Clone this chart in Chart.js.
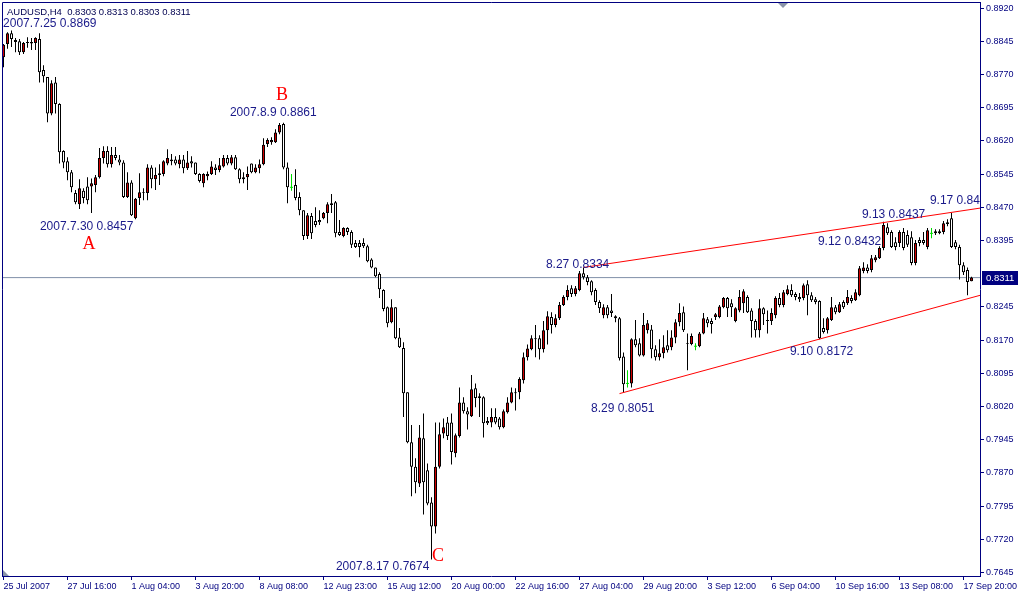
<!DOCTYPE html>
<html>
<head>
<meta charset="utf-8">
<title>AUDUSD H4</title>
<script src="https://cdn.jsdelivr.net/npm/chart.js@4.4.0/dist/chart.umd.min.js"></script>
<style>
  html, body { margin: 0; padding: 0; background: #fff; }
  canvas { display: block; }
</style>
</head>
<body>
<canvas id="chart" width="1022" height="597"></canvas>
<script>
const symbol = 'AUDUSD,H4'

// H4 bars, 25 Jul 2007 -> 18 Sep 2007
const opens = [
  0.8809,0.8839,0.8863,0.8848,0.8845,0.8820,0.8843,0.8840,0.8841,0.8850,
  0.8780,0.8764,0.8682,0.8752,0.8703,0.8597,0.8574,0.8549,0.8502,0.8477,
  0.8507,0.8517,0.8517,0.8520,0.8538,0.8581,0.8597,0.8567,0.8588,0.8578,
  0.8571,0.8493,0.8526,0.8445,0.8491,0.8504,0.8502,0.8560,0.8533,0.8543,
  0.8545,0.8569,0.8578,0.8578,0.8567,0.8578,0.8558,0.8574,0.8571,0.8545,
  0.8524,0.8540,0.8545,0.8560,0.8554,0.8562,0.8581,0.8569,0.8583,0.8556,
  0.8533,0.8538,0.8569,0.8549,0.8558,0.8567,0.8613,0.8617,0.8617,0.8639,
  0.8658,0.8560,0.8515,0.8520,0.8493,0.8463,0.8405,0.8450,0.8439,0.8441,
  0.8445,0.8457,0.8475,0.8481,0.8414,0.8405,0.8423,0.8414,0.8389,0.8389,
  0.8389,0.8382,0.8352,0.8334,0.8319,0.8283,0.8244,0.8210,0.8244,0.8176,
  0.8152,0.8052,0.7939,0.7884,0.7846,0.7948,0.7876,0.7803,0.7749,0.7884,
  0.7959,0.7984,0.7984,0.7914,0.7953,0.8029,0.8009,0.7998,0.8061,0.8043,
  0.8041,0.7987,0.7984,0.7996,0.7993,0.7973,0.8007,0.8029,0.8052,0.8052,
  0.8079,0.8131,0.8149,0.8172,0.8174,0.8149,0.8192,0.8222,0.8204,0.8219,
  0.8249,0.8267,0.8287,0.8274,0.8283,0.8321,0.8312,0.8303,0.8283,0.8256,
  0.8226,0.8244,0.8237,0.8224,0.8219,0.8133,0.8072,0.8072,0.8172,0.8163,
  0.8135,0.8192,0.8194,0.8149,0.8131,0.8140,0.8158,0.8154,0.8176,0.8210,
  0.8233,0.8161,0.8161,0.8156,0.8156,0.8185,0.8217,0.8213,0.8222,0.8222,
  0.8244,0.8265,0.8253,0.8213,0.8237,0.8253,0.8267,0.8237,0.8213,0.8192,
  0.8242,0.8213,0.8213,0.8226,0.8265,0.8249,0.8274,0.8283,0.8274,0.8267,
  0.8265,0.8296,0.8271,0.8262,0.8258,0.8197,0.8192,0.8215,0.8244,0.8233,
  0.8256,0.8253,0.8265,0.8260,0.8271,0.8326,0.8334,0.8328,0.8350,0.8355,
  0.8378,0.8425,0.8414,0.8391,0.8389,0.8414,0.8407,0.8402,0.8344,0.8396,
  0.8396,0.8380,0.8411,0.8416,0.8411,0.8414,0.8436,0.8445,0.8391,0.8380,
  0.8339,0.8328,0.8303
]
const highs = [
  0.8839,0.8865,0.8869,0.8852,0.8850,0.8843,0.8854,0.8852,0.8854,0.8863,
  0.8791,0.8764,0.8757,0.8764,0.8705,0.8599,0.8583,0.8554,0.8509,0.8533,
  0.8513,0.8538,0.8535,0.8543,0.8604,0.8608,0.8608,0.8606,0.8606,0.8588,
  0.8576,0.8549,0.8531,0.8491,0.8547,0.8513,0.8567,0.8565,0.8560,0.8567,
  0.8576,0.8601,0.8590,0.8585,0.8588,0.8588,0.8597,0.8585,0.8571,0.8547,
  0.8547,0.8551,0.8574,0.8567,0.8581,0.8588,0.8588,0.8588,0.8588,0.8558,
  0.8549,0.8562,0.8569,0.8567,0.8578,0.8626,0.8626,0.8628,0.8646,0.8660,
  0.8661,0.8571,0.8545,0.8556,0.8504,0.8463,0.8457,0.8457,0.8470,0.8463,
  0.8459,0.8481,0.8500,0.8484,0.8441,0.8425,0.8425,0.8418,0.8396,0.8396,
  0.8400,0.8385,0.8355,0.8334,0.8323,0.8285,0.8246,0.8262,0.8244,0.8197,
  0.8165,0.8052,0.7978,0.7903,0.7978,0.8004,0.7891,0.7815,0.7984,0.7984,
  0.7993,0.7996,0.8004,0.7959,0.8063,0.8041,0.8018,0.8091,0.8072,0.8050,
  0.8043,0.7996,0.8016,0.8016,0.7996,0.8013,0.8041,0.8063,0.8061,0.8086,
  0.8142,0.8160,0.8181,0.8204,0.8181,0.8213,0.8235,0.8233,0.8228,0.8256,
  0.8271,0.8294,0.8294,0.8292,0.8326,0.8334,0.8317,0.8305,0.8287,0.8260,
  0.8251,0.8249,0.8274,0.8226,0.8222,0.8142,0.8102,0.8174,0.8215,0.8174,
  0.8231,0.8215,0.8204,0.8158,0.8172,0.8181,0.8192,0.8192,0.8217,0.8253,
  0.8246,0.8185,0.8185,0.8163,0.8188,0.8231,0.8222,0.8219,0.8231,0.8249,
  0.8267,0.8267,0.8262,0.8244,0.8283,0.8285,0.8271,0.8242,0.8217,0.8262,
  0.8244,0.8237,0.8242,0.8269,0.8276,0.8283,0.8294,0.8296,0.8278,0.8276,
  0.8298,0.8305,0.8278,0.8267,0.8260,0.8219,0.8222,0.8267,0.8249,0.8256,
  0.8260,0.8283,0.8271,0.8285,0.8337,0.8346,0.8341,0.8362,0.8362,0.8382,
  0.8437,0.8434,0.8418,0.8402,0.8418,0.8423,0.8418,0.8416,0.8396,0.8402,
  0.8414,0.8423,0.8423,0.8420,0.8420,0.8439,0.8443,0.8457,0.8396,0.8385,
  0.8346,0.8334,0.8313
]
const lows = [
  0.8786,0.8828,0.8832,0.8820,0.8814,0.8816,0.8830,0.8825,0.8825,0.8752,
  0.8752,0.8662,0.8678,0.8682,0.8569,0.8558,0.8531,0.8504,0.8477,0.8466,
  0.8479,0.8477,0.8457,0.8504,0.8535,0.8569,0.8560,0.8560,0.8576,0.8565,
  0.8491,0.8491,0.8450,0.8443,0.8475,0.8486,0.8486,0.8513,0.8509,0.8520,
  0.8540,0.8565,0.8565,0.8565,0.8558,0.8547,0.8554,0.8560,0.8543,0.8526,
  0.8515,0.8531,0.8543,0.8543,0.8549,0.8560,0.8565,0.8565,0.8554,0.8524,
  0.8524,0.8509,0.8547,0.8547,0.8547,0.8565,0.8606,0.8611,0.8615,0.8635,
  0.8556,0.8479,0.8507,0.8486,0.8452,0.8396,0.8398,0.8398,0.8425,0.8430,
  0.8443,0.8434,0.8457,0.8402,0.8405,0.8402,0.8407,0.8378,0.8378,0.8357,
  0.8378,0.8346,0.8332,0.8312,0.8265,0.8235,0.8199,0.8208,0.8172,0.8152,
  0.7996,0.7937,0.7817,0.7824,0.7838,0.7776,0.7797,0.7674,0.7733,0.7880,
  0.7948,0.7944,0.7889,0.7905,0.7950,0.8004,0.7968,0.7996,0.8018,0.7996,
  0.7950,0.7978,0.7973,0.7980,0.7968,0.7971,0.8004,0.8027,0.8011,0.8036,
  0.8072,0.8124,0.8147,0.8131,0.8126,0.8142,0.8160,0.8185,0.8199,0.8215,
  0.8247,0.8260,0.8267,0.8269,0.8280,0.8307,0.8294,0.8271,0.8249,0.8231,
  0.8219,0.8219,0.8222,0.8210,0.8124,0.8051,0.8063,0.8063,0.8154,0.8133,
  0.8133,0.8185,0.8129,0.8124,0.8124,0.8129,0.8142,0.8147,0.8163,0.8201,
  0.8188,0.8102,0.8158,0.8147,0.8154,0.8183,0.8199,0.8185,0.8215,0.8219,
  0.8242,0.8222,0.8222,0.8210,0.8233,0.8231,0.8231,0.8176,0.8176,0.8176,
  0.8204,0.8185,0.8204,0.8219,0.8244,0.8244,0.8271,0.8267,0.8260,0.8256,
  0.8260,0.8226,0.8256,0.8251,0.8172,0.8185,0.8185,0.8213,0.8228,0.8231,
  0.8240,0.8249,0.8253,0.8258,0.8269,0.8321,0.8321,0.8323,0.8346,0.8353,
  0.8373,0.8407,0.8378,0.8373,0.8380,0.8373,0.8380,0.8339,0.8339,0.8382,
  0.8385,0.8375,0.8400,0.8407,0.8409,0.8409,0.8427,0.8378,0.8375,0.8307,
  0.8317,0.8271,0.8303
]
const closes = [
  0.8837,0.8863,0.8850,0.8843,0.8820,0.8841,0.8841,0.8843,0.8852,0.8775,
  0.8766,0.8682,0.8750,0.8703,0.8594,0.8571,0.8549,0.8515,0.8481,0.8513,
  0.8491,0.8486,0.8524,0.8538,0.8581,0.8597,0.8567,0.8588,0.8581,0.8571,
  0.8493,0.8526,0.8452,0.8489,0.8504,0.8502,0.8560,0.8533,0.8543,0.8547,
  0.8574,0.8581,0.8574,0.8569,0.8578,0.8558,0.8571,0.8569,0.8545,0.8529,
  0.8545,0.8545,0.8562,0.8554,0.8565,0.8581,0.8569,0.8583,0.8556,0.8533,
  0.8538,0.8545,0.8549,0.8560,0.8567,0.8611,0.8622,0.8622,0.8639,0.8656,
  0.8560,0.8515,0.8515,0.8491,0.8463,0.8405,0.8452,0.8411,0.8430,0.8436,
  0.8457,0.8477,0.8479,0.8411,0.8407,0.8423,0.8414,0.8385,0.8380,0.8380,
  0.8382,0.8348,0.8334,0.8314,0.8285,0.8240,0.8208,0.8244,0.8174,0.8154,
  0.8050,0.7939,0.7884,0.7849,0.7950,0.7849,0.7801,0.7749,0.7884,0.7957,
  0.7973,0.7953,0.7917,0.7955,0.8029,0.8009,0.8002,0.8059,0.8039,0.8039,
  0.7982,0.7982,0.7996,0.7984,0.7973,0.8009,0.8029,0.8052,0.8050,0.8082,
  0.8131,0.8151,0.8174,0.8174,0.8149,0.8192,0.8224,0.8204,0.8219,0.8249,
  0.8267,0.8283,0.8274,0.8287,0.8321,0.8312,0.8301,0.8278,0.8256,0.8242,
  0.8244,0.8226,0.8231,0.8219,0.8129,0.8070,0.8072,0.8172,0.8158,0.8135,
  0.8204,0.8208,0.8149,0.8131,0.8140,0.8154,0.8147,0.8176,0.8210,0.8231,
  0.8192,0.8163,0.8179,0.8156,0.8185,0.8219,0.8208,0.8206,0.8228,0.8246,
  0.8265,0.8242,0.8244,0.8242,0.8267,0.8280,0.8233,0.8213,0.8192,0.8242,
  0.8228,0.8215,0.8231,0.8265,0.8249,0.8278,0.8285,0.8271,0.8267,0.8262,
  0.8294,0.8271,0.8260,0.8256,0.8174,0.8188,0.8219,0.8244,0.8233,0.8251,
  0.8244,0.8267,0.8258,0.8278,0.8332,0.8334,0.8326,0.8355,0.8357,0.8378,
  0.8430,0.8411,0.8380,0.8380,0.8414,0.8378,0.8385,0.8344,0.8389,0.8389,
  0.8389,0.8418,0.8411,0.8411,0.8416,0.8434,0.8432,0.8380,0.8380,0.8339,
  0.8323,0.8301,0.8311
]

// time axis: one label every 16 bars
const xTickBars = [0, 16, 32, 48, 64, 80, 96, 112, 128, 144, 160, 176, 192, 208, 224, 240]
const xTickLabels = ['25 Jul 2007', '27 Jul 16:00', '1 Aug 04:00', '3 Aug 20:00', '8 Aug 08:00',
  '12 Aug 23:00', '15 Aug 12:00', '20 Aug 00:00', '22 Aug 16:00', '27 Aug 04:00', '29 Aug 20:00',
  '3 Sep 12:00', '6 Sep 04:00', '10 Sep 16:00', '13 Sep 08:00', '17 Sep 20:00']
const yTicks = [0.8920, 0.8845, 0.8770, 0.8695, 0.8620, 0.8545, 0.8470, 0.8395,
  0.8245, 0.8170, 0.8095, 0.8020, 0.7945, 0.7870, 0.7795, 0.7720, 0.7645]

// drawn objects: channel lines (bar index, price)
const upperTrend = [{x: 145, y: 0.8334}, {x: 244.125, y: 0.8468}]
const lowerTrend = [{x: 154, y: 0.8049}, {x: 244.125, y: 0.8271}]

// text objects anchored at (bar index, price)
const notes = [
  {text: '2007.7.25 0.8869', at: -0.1, price: 0.8884, kind: 'note'},
  {text: '2007.7.30 0.8457', at: 9.1, price: 0.8425, kind: 'note'},
  {text: 'A', at: 21.4, price: 0.8387, kind: 'wave'},
  {text: 'B', at: 69.6, price: 0.8723, kind: 'wave'},
  {text: '2007.8.9 0.8861', at: 56.6, price: 0.8683, kind: 'note'},
  {text: '2007.8.17 0.7674', at: 83.1, price: 0.7659, kind: 'note'},
  {text: 'C', at: 108.6, price: 0.7681, kind: 'wave'},
  {text: '8.27 0.8334', at: 135.6, price: 0.8341, kind: 'note'},
  {text: '8.29 0.8051', at: 146.9, price: 0.8016, kind: 'note'},
  {text: '9.10 0.8172', at: 196.6, price: 0.8143, kind: 'note'},
  {text: '9.12 0.8432', at: 203.6, price: 0.8393, kind: 'note'},
  {text: '9.13 0.8437', at: 214.6, price: 0.8454, kind: 'note'},
  {text: '9.17 0.8457', at: 231.6, price: 0.8484, kind: 'note'}
]

const NAVY = '#000080'
const TEXT = '#1a1a8a'
const UP = '#d00000'
const DOJI = '#00dd00'
const X_MIN = -0.375
const X_MAX = 244.125
const last = closes.length - 1
const lastPrice = closes[last]

const idx = opens.map((_, i) => i)
const isDoji = i => opens[i] === closes[i]

const bodies = idx.map(i => ({x: i, y: [opens[i], closes[i]]}))
const wicks = idx.map(i => ({x: i, y: [lows[i], highs[i]]}))
const dojiMarks = idx.filter(isDoji).map(i => ({x: i, y: closes[i]}))

// 텍스트, 프레임, 현재가 박스
const overlay = {
  id: 'overlay',
  afterDatasetsDraw(chart) {
    const {ctx, chartArea: a, scales} = chart
    ctx.save()
    ctx.beginPath()
    ctx.rect(a.left, a.top, a.right - a.left, a.bottom - a.top)
    ctx.clip()
    ctx.textBaseline = 'middle'
    notes.forEach(n => {
      const px = scales.x.getPixelForValue(n.at)
      const py = scales.y.getPixelForValue(n.price)
      if (n.kind === 'wave') {
        ctx.font = '18px "Liberation Serif"'
        ctx.fillStyle = '#ff0000'
        ctx.textAlign = 'center'
      } else {
        ctx.font = '12px "Liberation Sans"'
        ctx.fillStyle = TEXT
        ctx.textAlign = 'left'
      }
      ctx.fillText(n.text, px, py)
    })
    // header line
    ctx.font = '9.5px "Liberation Sans"'
    ctx.fillStyle = '#000050'
    ctx.textAlign = 'left'
    const ohlc = [opens[last], highs[last], lows[last], closes[last]].map(v => v.toFixed(4)).join(' ')
    ctx.fillText(symbol + '  ' + ohlc, 7, 12)
    ctx.restore()
  },
  afterDraw(chart) {
    const {ctx, chartArea: a, scales} = chart
    ctx.save()
    ctx.strokeStyle = NAVY
    ctx.lineWidth = 1
    ctx.beginPath()
    ctx.moveTo(a.left + 0.5, a.bottom)
    ctx.lineTo(a.left + 0.5, a.top + 0.5)
    ctx.lineTo(a.right, a.top + 0.5)
    ctx.stroke()

    // chart shift markers
    ctx.fillStyle = '#8a94a8'
    ctx.beginPath()
    ctx.moveTo(778, 3); ctx.lineTo(788, 3); ctx.lineTo(783, 8)
    ctx.fill()
    ctx.beginPath()
    ctx.moveTo(3, 570); ctx.lineTo(3, 576); ctx.lineTo(9, 576)
    ctx.fill()

    // current price box
    const py = Math.round(scales.y.getPixelForValue(lastPrice))
    ctx.fillStyle = NAVY
    ctx.fillRect(a.right + 2, py - 7, 36, 14)
    ctx.fillStyle = '#ffffff'
    ctx.font = '9.5px "Liberation Sans"'
    ctx.textAlign = 'left'
    ctx.textBaseline = 'middle'
    ctx.fillText(lastPrice.toFixed(4), a.right + 6, py)
    ctx.restore()
  }
}

const context = document.getElementById('chart')
const config = {
  type: 'bar',
  data: {
    datasets: [
      {
        type: 'line', data: upperTrend, borderColor: '#ff0000', borderWidth: 1,
        pointRadius: 0, pointHoverRadius: 0, order: 0
      },
      {
        type: 'line', data: lowerTrend, borderColor: '#ff0000', borderWidth: 1,
        pointRadius: 0, pointHoverRadius: 0, order: 0
      },
      {
        type: 'line', data: dojiMarks, showLine: false, pointStyle: 'line',
        pointRadius: 1.5, pointHoverRadius: 0, borderColor: DOJI, borderWidth: 1, order: 1
      },
      {
        data: bodies, grouped: false, barThickness: 3, borderWidth: 1,
        borderSkipped: false, inflateAmount: 0, order: 2,
        backgroundColor: idx.map(i => isDoji(i) ? 'rgba(0,0,0,0)' : (closes[i] > opens[i] ? UP : '#ffffff')),
        borderColor: idx.map(i => isDoji(i) ? 'rgba(0,0,0,0)' : '#000000')
      },
      {
        data: wicks, grouped: false, barThickness: 1, borderWidth: 0,
        inflateAmount: 0, order: 3,
        backgroundColor: idx.map(i => isDoji(i) ? DOJI : '#000000')
      },
      {
        type: 'line', data: [{x: X_MIN, y: lastPrice}, {x: X_MAX, y: lastPrice}],
        borderColor: '#8090a8', borderWidth: 1, pointRadius: 0, pointHoverRadius: 0, order: 4
      }
    ]
  },
  options: {
    responsive: false,
    animation: false,
    devicePixelRatio: 1,
    events: [],
    layout: {autoPadding: false, padding: {left: 2, top: 2, right: 0, bottom: 0}},
    plugins: {legend: {display: false}, tooltip: {enabled: false}},
    scales: {
      x: {
        type: 'linear', min: X_MIN, max: X_MAX, offset: false,
        afterBuildTicks: axis => { axis.ticks = xTickBars.map(v => ({value: v})) },
        afterFit: axis => {
          axis.height = 21
          axis.paddingLeft = 0
          axis.paddingRight = 0
        },
        grid: {drawOnChartArea: false, color: NAVY, tickLength: 4, offset: false},
        border: {color: NAVY},
        ticks: {
          align: 'start', autoSkip: false, maxRotation: 0, padding: 1,
          color: NAVY, font: {family: 'Liberation Sans', size: 9},
          callback: (value, index) => xTickLabels[index]
        }
      },
      y: {
        position: 'right', min: 0.7637, max: 0.89336,
        afterBuildTicks: axis => { axis.ticks = yTicks.map(v => ({value: v})) },
        afterFit: axis => {
          axis.width = 42
          axis.paddingTop = 0
          axis.paddingBottom = 0
        },
        grid: {drawOnChartArea: false, color: NAVY, tickLength: 4},
        border: {color: NAVY},
        ticks: {
          padding: 2, color: NAVY, font: {family: 'Liberation Sans', size: 9},
          callback: value => value.toFixed(4)
        }
      }
    }
  },
  plugins: [overlay]
}
const myChart = new Chart(context, config)
</script>
</body>
</html>
